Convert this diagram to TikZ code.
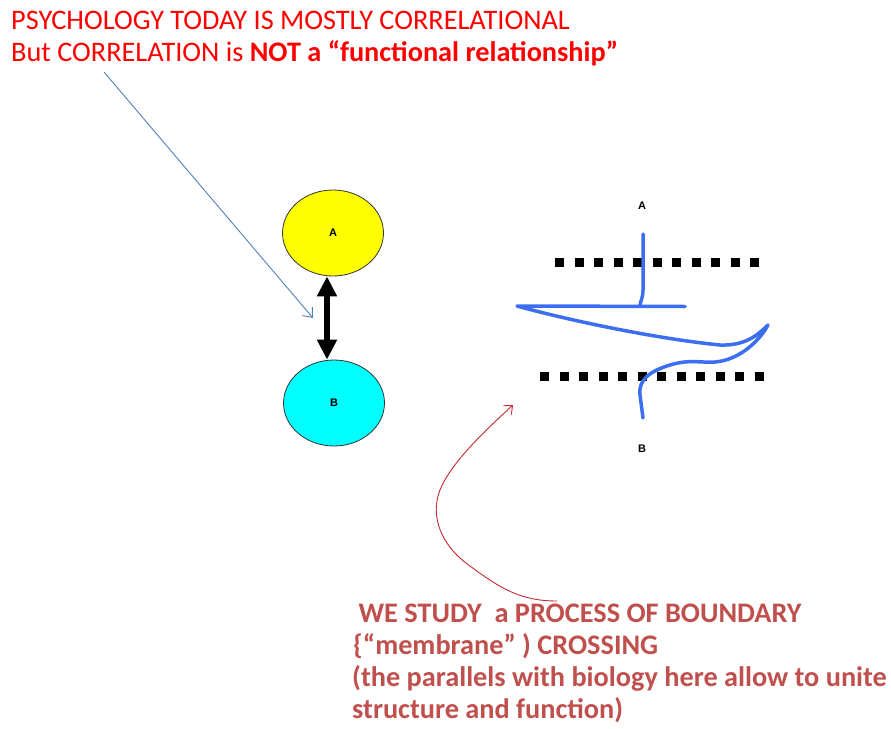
\documentclass[tikz,border=0pt]{standalone}
\usepackage{fontspec}
\setmainfont{Carlito}
\newfontfamily\labelfont{Liberation Sans}
\usetikzlibrary{shapes.geometric, arrows.meta}
\definecolor{headred}{RGB}{255,0,0}
\definecolor{notered}{RGB}{192,80,77}
\definecolor{curvered}{RGB}{200,40,50}
\definecolor{linkblue}{RGB}{79,129,189}
\definecolor{pathblue}{RGB}{59,110,240}
\definecolor{varyellow}{RGB}{255,255,0}
\definecolor{varcyan}{RGB}{0,255,255}

\begin{document}
\begin{tikzpicture}[x=1pt, y=-1pt,
  title/.style={anchor=base west, inner sep=0pt, text=headred,
    font=\fontsize{28.3}{32}\selectfont},
  remark/.style={anchor=base west, inner sep=0pt, text=notered,
    font=\fontsize{28.3}{32}\selectfont\bfseries},
  var/.style={ellipse, draw=black!80, line width=0.8pt, inner sep=0pt,
    minimum width=101pt, minimum height=86pt,
    font=\fontsize{11}{13}\selectfont\labelfont\bfseries},
  tag/.style={inner sep=0pt, font=\fontsize{11}{13}\selectfont\labelfont\bfseries},
  wall/.style={line width=9pt, dash pattern=on 9pt off 10.5pt},
  flow/.style={pathblue, line width=3.5pt, line cap=round, line join=round}
]
  \useasboundingbox (0,0) rectangle (891,728);

  % heading
  \node[title] (head1) at (11,29) {PSYCHOLOGY TODAY IS MOSTLY CORRELATIONAL};
  \node[title] (head2) at (11,61) {But CORRELATION is \textbf{NOT a “functional relationship”}};

  % correlation: A <-> B
  \node[var, fill=varyellow] (A) at (333,233) {A};
  \node[var, fill=varcyan] (B) at (334,403) {B};
  \draw[line width=6pt, {Triangle[width=19pt,length=20pt]}-{Triangle[width=19pt,length=20pt]}]
    ([xshift=-6pt]A.south) -- ([xshift=-7pt]B.north);

  \coordinate (pointer) at (104,72);
  \coordinate (pointee) at (313,318);
  \draw[linkblue, line width=0.9pt, -{Straight Barb[length=8pt,width=13pt]}] (pointer) -- (pointee);

  % boundary crossing
  \node[tag] (topA) at (642,206) {A};
  \node[tag] (botB) at (642,449) {B};
  \draw[wall] (555,262) -- (762,262);
  \draw[wall] (540,376) -- (770,376);

  \draw[flow] (643,234) -- (643,290) .. controls (643,298) and (640,302) .. (640,306);
  \draw[flow] (685,306.5) -- (517,306)
    .. controls (560,318) and (650,338) .. (720,345)
    .. controls (745,346) and (758,335) .. (768,325)
    .. controls (760,340) and (740,360) .. (715,362)
    .. controls (700,363) and (690,359) .. (670,365)
    .. controls (650,371) and (638,380) .. (640,395) -- (643,418);

  % note
  \node[remark] (note1) at (352,622) {\ WE STUDY\ \ a PROCESS OF BOUNDARY};
  \node[remark] (note2) at (353,654) {\{“membrane” ) CROSSING};
  \node[remark] (note3) at (352,686) {(the parallels with biology here allow to unite};
  \node[remark] (note4) at (352,718) {structure and function)};

  \coordinate (bend) at (557,601);
  \coordinate (target) at (513,405);
  \draw[curvered, line width=0.9pt, -{Straight Barb[length=7pt,width=12pt]}] (bend)
    .. controls (520,601) and (500,588) .. (470,566)
    .. controls (440,545) and (430,515) .. (440,490)
    .. controls (450,465) and (480,435) .. (target);
\end{tikzpicture}
\end{document}
